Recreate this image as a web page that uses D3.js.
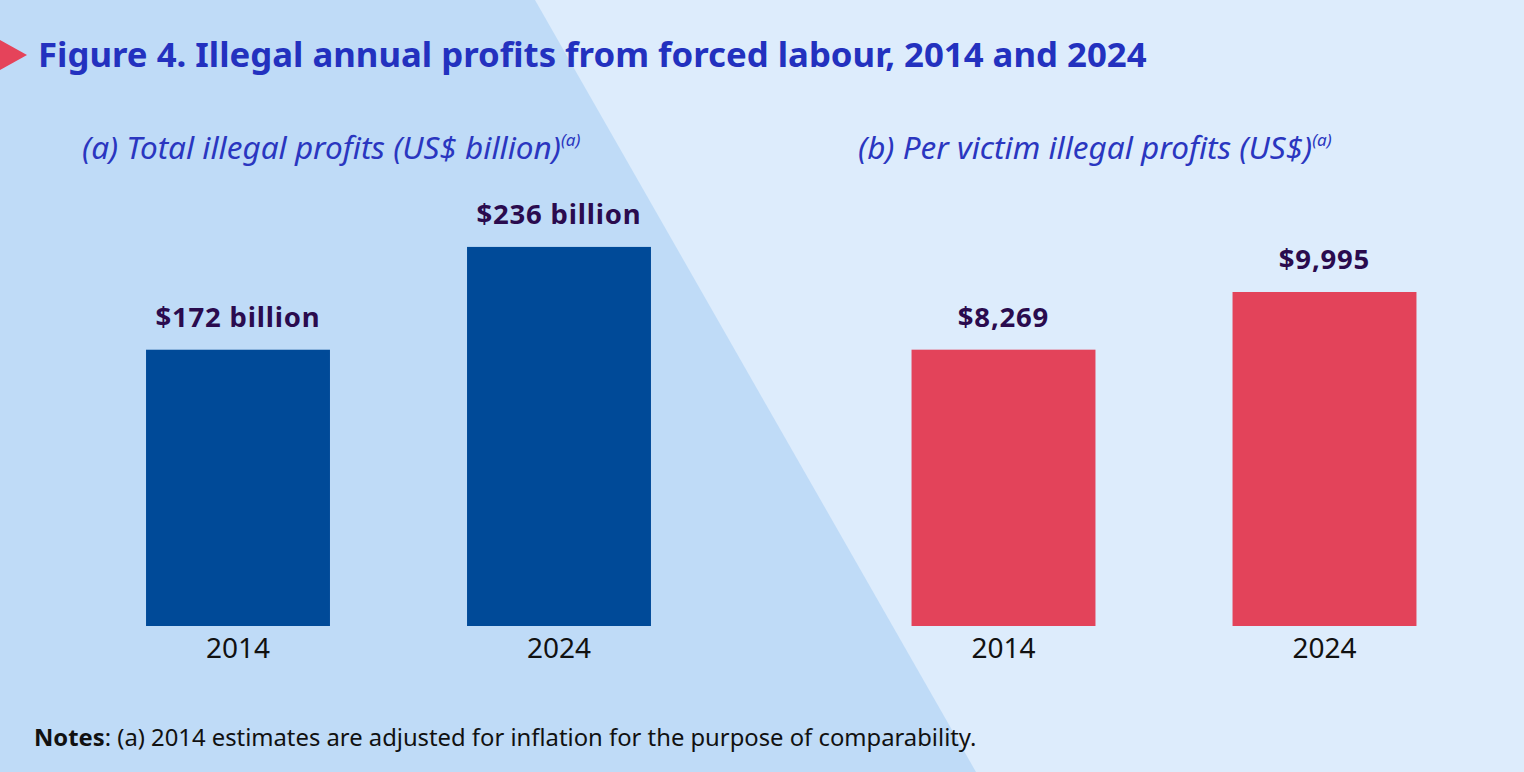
<!DOCTYPE html>
<html lang="en">
<head>
    <meta charset="UTF-8">
    <title>Figure 4. Illegal annual profits from forced labour, 2014 and 2024</title>
    <script src="https://d3js.org/d3.v7.min.js"></script>
    <style>
        html, body { margin: 0; padding: 0; background: #DDECFC; }
        svg { display: block; font-family: "Noto Sans", "Open Sans", sans-serif; }
    </style>
</head>
<body>
    <svg id="chart" width="1524" height="772"></svg>

    <script>
        // Chart data
        const years = ["2014", "2024"];
        const totalProfits = [172, 236];          // US$ billion
        const totalLabels = ["$172 billion", "$236 billion"];
        const perVictimProfits = [8269, 9995];    // US$
        const perVictimLabels = ["$8,269", "$9,995"];

        const titleText = "Figure 4. Illegal annual profits from forced labour, 2014 and 2024";
        const subtitleA = "(a) Total illegal profits (US$ billion)";
        const subtitleB = "(b) Per victim illegal profits (US$)";
        const noteText = ": (a) 2014 estimates are adjusted for inflation for the purpose of comparability.";

        const W = 1524, H = 772;
        const svg = d3.select("#chart");

        // Background: light blue page with a darker diagonal wedge on the left
        svg.append("rect").attr("width", W).attr("height", H).attr("fill", "#DDECFC");
        svg.append("polygon")
            .attr("points", `0,0 535,0 976,${H} 0,${H}`)
            .attr("fill", "#BFDBF7");

        // Title with red marker
        svg.append("polygon")
            .attr("points", "0,40 27,55 0,70")
            .attr("fill", "#E5435A");
        svg.append("text")
            .attr("x", 38).attr("y", 67)
            .attr("font-size", "34.75px")
            .attr("font-weight", "bold")
            .attr("fill", "#2331BF")
            .text(titleText);

        const baseline = 626;
        const plotTop = 227;

        function drawPanel(opts) {
            const x = d3.scaleBand()
                .domain(years)
                .range(opts.xRange)
                .paddingInner(0.427)
                .paddingOuter(0.2135);

            const y = d3.scaleLinear()
                .domain([0, opts.max])
                .range([baseline, plotTop]);

            const g = svg.append("g");

            // Subtitle
            const sub = g.append("text")
                .attr("x", opts.subX).attr("y", 159)
                .attr("font-size", "31.5px")
                .attr("font-style", "italic")
                .attr("fill", "#2A36C0");
            sub.append("tspan").text(opts.subtitle);
            sub.append("tspan")
                .attr("font-size", "17px")
                .attr("dy", -13)
                .text("(a)");

            // Bars
            g.selectAll("rect.bar")
                .data(opts.values)
                .join("rect")
                .attr("class", "bar")
                .attr("x", (d, i) => x(years[i]))
                .attr("y", d => y(d))
                .attr("width", x.bandwidth())
                .attr("height", d => baseline - y(d))
                .attr("fill", opts.color);

            // Value labels
            g.selectAll("text.value")
                .data(opts.values)
                .join("text")
                .attr("class", "value")
                .attr("x", (d, i) => x(years[i]) + x.bandwidth() / 2)
                .attr("y", d => y(d) - 23)
                .attr("text-anchor", "middle")
                .attr("font-size", "27.5px")
                .attr("letter-spacing", "0.8px")
                .attr("font-weight", "bold")
                .attr("fill", "#2A0B4E")
                .text((d, i) => opts.labels[i]);

            // Category axis (labels only)
            const axis = g.append("g")
                .attr("transform", `translate(0, ${baseline})`)
                .call(d3.axisBottom(x).tickSize(0).tickPadding(12));
            axis.select(".domain").remove();
            axis.selectAll("text")
                .attr("font-family", "Noto Sans, sans-serif")
                .attr("font-size", "28px")
                .attr("fill", "#111")
                .attr("dy", "0.71em");
        }

        drawPanel({
            xRange: [77.5, 719.5],
            max: 248.4,
            values: totalProfits,
            labels: totalLabels,
            color: "#004A98",
            subtitle: subtitleA,
            subX: 82
        });

        drawPanel({
            xRange: [843, 1485],
            max: 11940,
            values: perVictimProfits,
            labels: perVictimLabels,
            color: "#E3435A",
            subtitle: subtitleB,
            subX: 858
        });

        // Notes
        const note = svg.append("text")
            .attr("x", 34).attr("y", 746)
            .attr("font-size", "23.8px")
            .attr("fill", "#111");
        note.append("tspan").attr("font-weight", "bold").text("Notes");
        note.append("tspan").text(noteText);
    </script>
</body>
</html>
